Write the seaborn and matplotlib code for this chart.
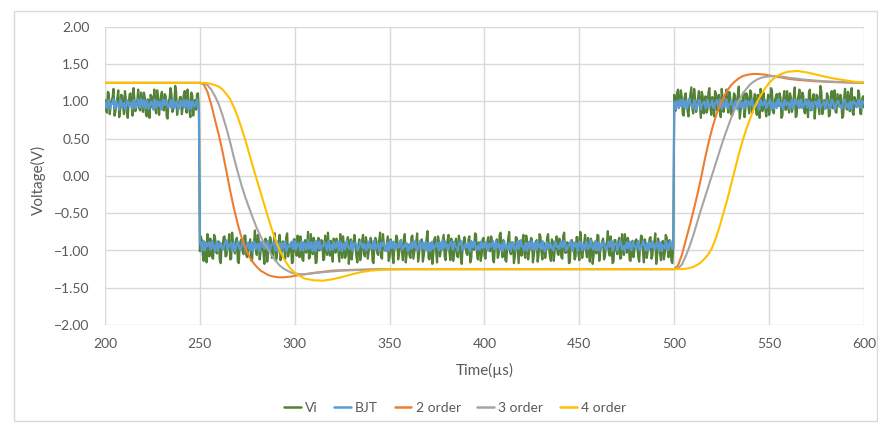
import matplotlib
matplotlib.use("Agg")
import matplotlib.pyplot as plt
import pandas as pd
import seaborn as sns
from matplotlib.lines import Line2D
from matplotlib.patches import Rectangle

# ---- sampled input / transistor output ----
# samples on whole microseconds (200 ... 600) and on the half microseconds in between
time_us = list(range(200, 601))
time_half_us = [t + 0.5 for t in range(200, 600)]

vi = [
    # 200-219
    1.02, 0.85, 1.11, 0.94, 1.06, 0.81, 0.99, 1.15, 0.89, 1.08, 0.83, 1.03, 0.78, 1.10, 0.95, 1.18, 0.87, 1.01, 0.91, 1.12,
    # 220-239
    0.86, 1.05, 0.80, 1.00, 1.09, 0.92, 1.16, 0.84, 1.04, 0.96, 1.13, 0.88, 1.07, 0.77, 1.02, 1.10, 0.90, 1.21, 0.82, 0.98,
    # 240-259
    1.06, 0.93, 1.14, 0.85, 1.03, 0.79, 1.08, 0.99, 0.89, 1.11, -1.01, -0.86, -1.14, -0.90, -0.78, -1.08, -0.94, -1.11, -0.83, -1.04,
    # 260-279
    -0.88, -1.17, -0.95, -0.81, -1.07, -0.91, -1.12, -0.76, -1.00, -0.87, -1.15, -0.93, -0.85, -1.05, -0.80, -1.09, -0.97, -1.13, -0.89, -0.73,
    # 280-299
    -1.06, -0.84, -1.02, -0.92, -1.18, -0.86, -0.99, -0.82, -1.10, -0.90, -1.14, -0.95, -0.79, -1.04, -0.88, -1.11, -0.77, -1.01, -0.91, -1.16,
    # 300-319
    -0.85, -1.07, -0.96, -0.81, -1.12, -0.89, -1.03, -0.75, -1.09, -0.94, -0.83, -1.17, -0.92, -1.00, -0.86, -1.13, -0.80, -1.06, -0.97, -0.87,
    # 320-339
    -1.15, -0.91, -0.84, -1.02, -0.78, -1.10, -0.95, -1.07, -0.82, -0.99, -1.12, -0.88, -0.93, -1.16, -0.85, -1.04, -0.79, -1.08, -0.90, -1.01,
    # 340-359
    -0.83, -1.14, -0.94, -0.87, -1.06, -0.76, -1.11, -0.92, -1.00, -0.81, -1.09, -0.89, -1.17, -0.96, -0.84, -1.03, -0.86, -1.13, -0.78, -1.05,
    # 360-379
    -0.95, -1.10, -0.80, -1.02, -0.89, -1.15, -0.91, -0.85, -1.07, -0.97, -0.74, -1.12, -0.93, -1.05, -0.82, -1.16, -0.88, -1.00, -0.86, -1.08,
    # 380-399
    -0.92, -0.79, -1.13, -0.96, -1.04, -0.84, -1.09, -0.90, -1.18, -0.87, -0.94, -1.06, -0.81, -1.11, -0.98, -0.77, -1.03, -0.89, -1.14, -0.85,
    # 400-419
    -1.07, -0.93, -0.82, -1.01, -0.88, -1.16, -0.91, -1.10, -0.79, -0.99, -0.86, -1.13, -0.95, -0.75, -1.05, -0.90, -1.08, -0.83, -1.17, -0.94,
    # 420-439
    -0.87, -1.04, -0.80, -1.12, -0.96, -0.85, -1.07, -0.92, -1.15, -0.78, -1.02, -0.89, -1.10, -0.83, -0.97, -1.14, -0.88, -1.00, -0.81, -1.06,
    # 440-459
    -0.93, -1.11, -0.76, -1.03, -0.90, -1.16, -0.86, -0.95, -1.08, -0.82, -1.13, -0.91, -0.99, -0.79, -1.09, -0.94, -0.84, -1.18, -0.89, -1.04,
    # 460-479
    -0.80, -1.01, -0.88, -1.12, -0.92, -0.74, -1.07, -0.97, -1.15, -0.86, -1.05, -0.83, -1.10, -0.95, -0.78, -1.03, -0.90, -1.14, -0.87, -1.00,
    # 480-499
    -0.85, -1.08, -0.94, -0.81, -1.16, -0.91, -1.02, -0.84, -1.11, -0.89, -0.77, -1.06, -0.96, -1.13, -0.87, -1.04, -0.82, -1.09, -0.93, -1.17,
    # 500-519
    1.09, 0.90, 1.16, 0.95, 1.05, 0.81, 1.11, 0.87, 1.00, 1.19, 0.84, 1.03, 0.92, 1.14, 0.78, 1.07, 0.98, 0.85, 1.12, 0.93,
    # 520-539
    1.06, 0.80, 1.10, 1.01, 0.89, 1.17, 0.86, 1.04, 0.94, 1.13, 0.83, 0.99, 1.08, 0.91, 1.20, 0.88, 1.02, 0.79, 1.11, 0.96,
    # 540-559
    1.15, 0.85, 1.03, 0.93, 1.09, 0.78, 1.06, 1.12, 0.90, 0.99, 0.82, 1.18, 0.87, 1.01, 1.10, 0.94, 1.05, 0.81, 1.14, 0.89,
    # 560-579
    1.00, 1.11, 0.86, 1.07, 0.79, 1.03, 1.16, 0.92, 1.08, 0.84, 0.98, 1.13, 0.88, 1.04, 0.77, 1.09, 0.95, 1.21, 0.83, 1.02,
    # 580-600
    0.91, 1.07, 0.82, 1.14, 0.99, 0.86, 1.10, 0.93, 1.05, 0.80, 1.17, 0.89, 1.01, 1.12, 0.85, 1.06, 0.96, 1.15, 0.84, 1.03,
    0.92,
]

vi_half = [
    # 200.5-219.5
    0.90, 1.13, 0.83, 1.01, 1.17, 0.87, 1.05, 0.79, 1.09, 0.94, 1.14, 0.85, 0.98, 1.11, 0.81, 1.04, 0.92, 1.16, 0.88, 1.00,
    # 220.5-239.5
    1.12, 0.84, 1.03, 0.78, 1.07, 0.99, 0.89, 1.15, 0.82, 1.08, 0.93, 1.10, 0.80, 1.02, 1.18, 0.86, 0.97, 1.13, 0.91, 1.06,
    # 240.5-259.5
    0.83, 1.09, 0.95, 1.16, 0.88, 1.12, 0.81, 1.02, 1.10, 0.86, -0.81, -1.05, -0.89, -1.16, -0.95, -0.84, -1.10, -0.79, -1.02, -0.88,
    # 260.5-279.5
    -1.13, -0.92, -0.82, -1.08, -0.97, -0.78, -1.11, -0.90, -1.04, -0.83, -1.17, -0.87, -1.01, -0.80, -1.07, -0.94, -0.85, -1.14, -0.91, -0.99,
    # 280.5-299.5
    -0.79, -1.12, -0.89, -1.03, -0.84, -1.15, -0.96, -0.86, -1.06, -0.77, -1.10, -0.93, -1.13, -0.88, -1.00, -0.82, -1.08, -0.92, -1.17, -0.85,
    # 300.5-319.5
    -1.02, -0.80, -1.09, -0.91, -1.14, -0.86, -0.95, -1.11, -0.78, -1.05, -0.89, -1.16, -0.83, -0.99, -0.87, -1.12, -0.94, -0.76, -1.07, -0.92,
    # 320.5-339.5
    -0.84, -1.03, -0.88, -1.15, -0.96, -0.81, -1.10, -0.90, -1.18, -0.85, -1.01, -0.79, -1.08, -0.93, -1.13, -0.86, -1.05, -0.82, -1.11, -0.97,
    # 340.5-359.5
    -0.89, -1.17, -0.83, -1.04, -0.86, -1.09, -0.78, -1.00, -0.91, -1.14, -0.85, -1.06, -0.95, -0.80, -1.12, -0.88, -1.02, -0.84, -1.16, -0.92,
    # 360.5-379.5
    -1.07, -0.82, -1.11, -0.94, -0.77, -1.05, -0.87, -1.15, -0.97, -0.83, -1.10, -0.90, -1.18, -0.85, -1.01, -0.81, -1.08, -0.93, -0.79, -1.13,
    # 380.5-399.5
    -0.87, -1.02, -0.84, -1.14, -0.91, -1.07, -0.80, -1.10, -0.95, -0.82, -1.04, -0.86, -1.16, -0.89, -0.99, -0.78, -1.12, -0.92, -1.06, -0.83,
    # 400.5-419.5
    -1.11, -0.88, -1.00, -0.81, -1.13, -0.93, -0.85, -1.05, -0.76, -1.09, -0.96, -1.15, -0.84, -1.03, -0.89, -1.17, -0.82, -1.01, -0.87, -1.07,
    # 420.5-439.5
    -0.79, -1.10, -0.91, -1.02, -0.83, -1.16, -0.95, -0.86, -1.06, -0.81, -1.12, -0.92, -0.99, -0.78, -1.08, -0.85, -1.14, -0.94, -1.04, -0.84,
    # 440.5-459.5
    -1.09, -0.80, -1.03, -0.89, -1.17, -0.87, -0.97, -1.12, -0.82, -1.05, -0.75, -1.10, -0.90, -1.01, -0.83, -1.15, -0.88, -1.07, -0.93, -0.79,
    # 460.5-479.5
    -1.14, -0.95, -0.84, -1.08, -0.90, -1.03, -0.81, -1.17, -0.86, -1.00, -0.89, -1.11, -0.78, -1.06, -0.94, -0.83, -1.13, -0.91, -1.09, -0.87,
    # 480.5-499.5
    -0.92, -1.15, -0.80, -1.01, -0.85, -1.10, -0.96, -0.82, -1.07, -0.88, -1.18, -0.84, -1.04, -0.90, -1.12, -0.79, -0.99, -0.86, -1.14, -0.93,
    # 500.5-519.5
    0.87, 1.12, 0.93, 1.15, 0.83, 1.06, 0.99, 0.80, 1.10, 0.91, 1.17, 0.86, 1.04, 0.95, 1.13, 0.84, 1.07, 0.89, 1.18, 0.82,
    # 520.5-539.5
    1.01, 1.14, 0.88, 1.09, 0.79, 1.03, 0.94, 1.16, 0.85, 1.05, 0.81, 1.11, 0.92, 1.08, 0.77, 1.00, 1.12, 0.90, 1.07, 0.84,
    # 540.5-559.5
    1.13, 0.91, 1.10, 0.82, 1.02, 1.17, 0.87, 0.98, 0.80, 1.09, 0.93, 1.15, 0.84, 1.06, 0.96, 1.11, 0.78, 1.04, 0.89, 1.14,
    # 560.5-579.5
    0.85, 1.05, 0.92, 1.19, 0.81, 1.08, 0.95, 1.12, 0.86, 1.03, 0.79, 1.16, 0.90, 1.10, 0.94, 1.07, 0.83, 1.14, 0.88, 0.99,
    # 580.5-599.5
    1.11, 0.80, 1.06, 0.91, 1.15, 0.85, 1.01, 1.09, 0.78, 1.04, 0.95, 1.13, 0.87, 1.18, 0.82, 1.02, 0.93, 1.10, 0.83, 1.07,
]

bjt = [
    # 200-219
    0.99, 0.91, 1.02, 0.94, 0.97, 0.90, 1.00, 0.95, 1.03, 0.92, 0.98, 0.89, 1.01, 0.96, 0.93, 1.02, 0.91, 0.98, 0.95, 1.04,
    # 220-239
    0.92, 0.97, 1.01, 0.90, 0.99, 0.94, 1.03, 0.91, 0.96, 1.00, 0.89, 0.98, 1.02, 0.93, 0.97, 0.91, 1.04, 0.94, 0.99, 0.90,
    # 240-259
    1.01, 0.95, 0.92, 1.02, 0.89, 0.98, 1.00, 0.93, 0.97, 0.91, -0.91, -1.00, -0.87, -0.96, -0.94, -0.89, -0.98, -0.92, -1.01, -0.88,
    # 260-279
    -0.95, -0.90, -0.99, -0.91, -0.86, -0.97, -0.93, -1.00, -0.89, -0.96, -0.88, -0.98, -0.94, -0.87, -0.99, -0.92, -0.97, -0.90, -1.02, -0.91,
    # 280-299
    -0.93, -0.99, -0.88, -0.95, -0.98, -0.91, -0.87, -1.00, -0.92, -0.89, -0.96, -1.01, -0.90, -0.93, -0.97, -0.88, -0.99, -0.94, -0.89, -0.98,
    # 300-319
    -0.87, -0.96, -0.91, -1.00, -0.93, -0.90, -0.99, -0.86, -0.95, -0.97, -0.89, -1.01, -0.92, -0.88, -0.98, -0.94, -0.91, -1.00, -0.87, -0.96,
    # 320-339
    -0.99, -0.90, -0.93, -0.97, -0.88, -1.01, -0.92, -0.89, -0.95, -0.98, -0.87, -0.96, -0.91, -1.00, -0.94, -0.89, -0.97, -0.93, -0.99, -0.88,
    # 340-359
    -0.92, -0.98, -0.86, -0.95, -0.90, -1.00, -0.94, -0.91, -1.01, -0.89, -0.93, -0.97, -0.88, -0.99, -0.92, -0.96, -0.87, -0.98, -0.95, -0.90,
    # 360-379
    -1.00, -0.91, -0.89, -0.96, -0.94, -0.99, -0.87, -0.97, -0.92, -0.88, -1.01, -0.93, -0.90, -0.98, -0.95, -0.89, -1.00, -0.91, -0.86, -0.96,
    # 380-399
    -0.93, -0.99, -0.90, -0.97, -0.88, -0.95, -1.01, -0.92, -0.89, -0.98, -0.91, -0.94, -1.00, -0.87, -0.96, -0.90, -0.99, -0.93, -0.88, -0.97,
    # 400-419
    -0.96, -0.89, -1.00, -0.91, -0.93, -0.98, -0.87, -0.95, -0.99, -0.92, -0.88, -0.97, -0.94, -0.90, -1.01, -0.89, -0.96, -0.91, -0.98, -0.86,
    # 420-439
    -0.95, -1.00, -0.90, -0.92, -0.97, -0.88, -0.99, -0.93, -0.87, -0.96, -0.98, -0.91, -1.01, -0.89, -0.94, -0.92, -0.99, -0.88, -0.95, -0.97,
    # 440-459
    -0.90, -0.96, -0.87, -1.00, -0.93, -0.91, -0.98, -0.89, -0.95, -1.01, -0.88, -0.94, -0.92, -0.99, -0.90, -0.97, -0.86, -0.96, -0.93, -1.00,
    # 460-479
    -0.89, -0.97, -0.94, -0.88, -0.99, -0.92, -0.95, -0.87, -0.98, -0.91, -1.00, -0.93, -0.90, -0.96, -1.01, -0.89, -0.92, -0.98, -0.88, -0.95,
    # 480-499
    -0.97, -0.87, -0.99, -0.93, -0.90, -1.00, -0.92, -0.89, -0.96, -0.94, -0.98, -0.88, -1.01, -0.91, -0.93, -0.97, -0.89, -0.99, -0.87, -0.96,
    # 500-519
    1.00, 0.90, 0.98, 1.02, 0.95, 0.92, 1.01, 0.93, 1.04, 0.96, 0.91, 0.99, 0.94, 1.02, 0.89, 0.97, 1.00, 0.92, 0.98, 0.95,
    # 520-539
    1.02, 0.91, 0.99, 0.94, 1.03, 0.90, 0.96, 1.00, 0.93, 0.97, 1.01, 0.89, 0.98, 0.95, 1.02, 0.92, 0.99, 0.91, 0.97, 1.00,
    # 540-559
    0.94, 1.03, 0.92, 0.96, 1.01, 0.90, 0.99, 0.95, 1.02, 0.93, 0.98, 0.89, 1.00, 0.97, 0.91, 1.04, 0.94, 0.92, 1.01, 0.95,
    # 560-579
    0.99, 0.90, 1.02, 0.94, 0.96, 1.00, 0.91, 1.03, 0.93, 0.97, 0.92, 1.01, 0.98, 0.89, 0.99, 0.95, 1.02, 0.91, 0.96, 1.00,
    # 580-600
    0.93, 0.98, 0.90, 1.03, 0.97, 0.92, 1.01, 0.94, 0.91, 0.99, 1.02, 0.95, 0.89, 1.00, 0.96, 0.98, 0.92, 1.02, 0.93, 1.01,
    0.97,
]

bjt_half = [
    # 200.5-219.5
    0.93, 1.01, 0.90, 0.98, 1.03, 0.92, 0.96, 0.89, 1.00, 0.97, 0.91, 1.02, 0.94, 0.99, 0.90, 1.01, 0.95, 1.03, 0.92, 0.98,
    # 220.5-239.5
    1.02, 0.91, 0.97, 0.93, 1.00, 0.89, 0.99, 1.01, 0.94, 0.90, 1.03, 0.95, 0.98, 0.92, 1.02, 0.96, 0.91, 0.99, 0.89, 1.00,
    # 240.5-259.5
    0.94, 1.02, 0.92, 0.97, 1.01, 0.90, 0.99, 0.95, 1.03, 0.93, -0.89, -0.96, -1.00, -0.90, -0.93, -0.99, -0.87, -0.97, -0.92, -1.01,
    # 260.5-279.5
    -0.90, -0.94, -0.98, -0.88, -1.00, -0.92, -0.89, -0.96, -1.01, -0.91, -0.93, -0.99, -0.87, -0.95, -0.97, -0.89, -1.00, -0.92, -0.88, -0.98,
    # 280.5-299.5
    -0.91, -1.01, -0.89, -0.94, -0.97, -0.88, -0.99, -0.93, -0.90, -1.00, -0.87, -0.96, -0.98, -0.91, -0.89, -1.01, -0.93, -0.95, -0.88, -0.97,
    # 300.5-319.5
    -0.99, -0.90, -0.95, -0.88, -1.00, -0.92, -0.94, -0.98, -0.89, -1.01, -0.91, -0.87, -0.97, -0.99, -0.93, -0.88, -0.96, -0.90, -1.00, -0.92,
    # 320.5-339.5
    -0.89, -0.97, -0.88, -1.00, -0.93, -0.91, -0.99, -0.87, -0.96, -0.94, -1.01, -0.90, -0.92, -0.98, -0.88, -0.95, -0.91, -1.00, -0.89, -0.97,
    # 340.5-359.5
    -0.95, -0.88, -0.99, -0.92, -1.01, -0.90, -0.89, -0.97, -0.93, -1.00, -0.87, -0.94, -0.98, -0.91, -0.96, -0.88, -0.99, -0.93, -0.90, -1.01,
    # 360.5-379.5
    -0.91, -0.98, -0.93, -0.87, -1.00, -0.92, -0.96, -0.89, -0.99, -0.94, -0.90, -1.01, -0.88, -0.95, -0.91, -0.97, -0.89, -1.00, -0.95, -0.88,
    # 380.5-399.5
    -0.98, -0.92, -0.88, -0.99, -0.94, -0.97, -0.90, -0.87, -1.00, -0.93, -0.96, -0.89, -1.01, -0.91, -0.88, -0.98, -0.94, -0.99, -0.92, -0.90,
    # 400.5-419.5
    -0.89, -1.00, -0.91, -0.95, -0.87, -0.98, -0.96, -0.90, -0.93, -1.01, -0.88, -0.94, -0.99, -0.92, -0.89, -0.97, -1.00, -0.87, -0.95, -0.91,
    # 420.5-439.5
    -0.97, -0.90, -1.01, -0.88, -0.93, -0.96, -0.89, -0.99, -0.94, -0.91, -0.87, -1.00, -0.92, -0.98, -0.90, -0.95, -1.00, -0.89, -0.93, -0.98,
    # 440.5-459.5
    -0.88, -0.95, -0.91, -0.99, -0.92, -0.87, -1.01, -0.94, -0.90, -0.97, -0.89, -1.00, -0.93, -0.88, -0.98, -0.92, -0.96, -0.99, -0.87, -0.94,
    # 460.5-479.5
    -1.00, -0.91, -0.89, -0.96, -0.98, -0.88, -0.93, -1.01, -0.91, -0.90, -0.95, -0.87, -0.99, -0.94, -0.92, -0.97, -0.88, -1.00, -0.90, -0.96,
    # 480.5-499.5
    -0.92, -0.99, -0.94, -0.87, -0.97, -0.90, -1.00, -0.93, -0.88, -0.98, -0.91, -0.96, -0.89, -1.01, -0.94, -0.87, -0.99, -0.91, -0.95, -0.98,
    # 500.5-519.5
    0.97, 1.01, 0.91, 0.99, 1.03, 0.94, 0.90, 1.00, 0.96, 0.92, 1.02, 0.89, 0.98, 1.01, 0.95, 0.99, 0.91, 1.03, 0.93, 0.96,
    # 520.5-539.5
    0.92, 0.98, 1.02, 0.90, 0.97, 1.00, 0.93, 1.03, 0.91, 0.96, 0.99, 0.94, 1.01, 0.89, 1.00, 0.97, 0.90, 1.02, 0.95, 0.98,
    # 540.5-559.5
    1.01, 0.92, 0.96, 0.99, 0.89, 1.02, 0.95, 1.00, 0.91, 0.98, 1.03, 0.93, 0.90, 0.97, 1.01, 0.94, 0.99, 0.89, 1.02, 0.96,
    # 560.5-579.5
    0.94, 1.00, 0.90, 1.03, 0.97, 0.93, 1.01, 0.91, 0.98, 1.02, 0.95, 0.89, 0.99, 0.96, 1.00, 0.92, 1.03, 0.94, 0.97, 0.90,
    # 580.5-599.5
    1.02, 0.96, 0.93, 1.01, 0.89, 0.98, 1.00, 0.95, 0.91, 1.03, 0.92, 0.97, 0.99, 0.90, 1.01, 0.98, 0.94, 1.02, 0.91, 0.99,
]

# ---- filter outputs (2nd, 3rd, 4th order) ----
filter_time_us = [
    200,
    250, 252, 254, 256, 258, 260, 262, 264, 266, 268, 270, 272, 274, 276, 278,
    280, 282, 284, 286, 288, 290, 292, 294, 296, 298, 300,
    305, 310, 315, 320, 325, 330, 335, 340, 345, 350, 355, 360,
    380, 420, 460, 500,
    502, 504, 506, 508, 510, 512, 514, 516, 518, 520, 522, 524, 526, 528, 530,
    532, 534, 536, 538, 540, 542, 544, 546, 548, 550, 552, 554, 556, 558, 560,
    565, 570, 575, 580, 585, 590, 595, 600,
]

order2 = [
    1.25,
    1.25, 1.23, 1.13, 0.96, 0.75, 0.55, 0.32, 0.06, -0.20, -0.44, -0.65, -0.83, -0.97, -1.08, -1.16,
    -1.22, -1.27, -1.30, -1.33, -1.345, -1.355, -1.36, -1.36, -1.355, -1.35, -1.34,
    -1.32, -1.30, -1.285, -1.27, -1.265, -1.26, -1.257, -1.255, -1.252, -1.25, -1.25, -1.25,
    -1.25, -1.25, -1.25, -1.25,
    -1.20, -1.06, -0.87, -0.68, -0.48, -0.27, -0.04, 0.21, 0.44, 0.64, 0.81, 0.95, 1.06, 1.15, 1.22,
    1.27, 1.31, 1.34, 1.355, 1.365, 1.37, 1.37, 1.365, 1.36, 1.35, 1.34, 1.33, 1.325, 1.315, 1.305,
    1.29, 1.28, 1.27, 1.265, 1.26, 1.255, 1.252, 1.25,
]

order3 = [
    1.25,
    1.25, 1.245, 1.22, 1.16, 1.07, 0.96, 0.81, 0.64, 0.45, 0.24, 0.05, -0.13, -0.29, -0.43, -0.57,
    -0.70, -0.81, -0.91, -0.99, -1.07, -1.14, -1.20, -1.24, -1.27, -1.295, -1.31,
    -1.32, -1.305, -1.29, -1.28, -1.27, -1.265, -1.26, -1.255, -1.252, -1.25, -1.25, -1.25,
    -1.25, -1.25, -1.25, -1.25,
    -1.24, -1.19, -1.08, -0.95, -0.80, -0.63, -0.46, -0.30, -0.14, 0.02, 0.18, 0.34, 0.50, 0.64, 0.78,
    0.90, 1.01, 1.10, 1.17, 1.23, 1.27, 1.30, 1.32, 1.33, 1.337, 1.34, 1.34, 1.337, 1.33, 1.32,
    1.305, 1.29, 1.28, 1.27, 1.265, 1.26, 1.255, 1.25,
]

order4 = [
    1.25,
    1.25, 1.25, 1.245, 1.235, 1.22, 1.20, 1.16, 1.10, 1.03, 0.92, 0.79, 0.64, 0.48, 0.30, 0.12,
    -0.05, -0.22, -0.39, -0.56, -0.72, -0.87, -0.99, -1.10, -1.18, -1.25, -1.30,
    -1.375, -1.40, -1.405, -1.385, -1.355, -1.32, -1.29, -1.27, -1.26, -1.255, -1.252, -1.25,
    -1.25, -1.25, -1.25, -1.25,
    -1.25, -1.25, -1.245, -1.235, -1.22, -1.195, -1.16, -1.11, -1.05, -0.96, -0.83, -0.67, -0.49, -0.31, -0.11,
    0.09, 0.29, 0.47, 0.63, 0.77, 0.90, 1.01, 1.10, 1.18, 1.25, 1.30, 1.34, 1.365, 1.385, 1.40,
    1.41, 1.39, 1.36, 1.33, 1.305, 1.285, 1.265, 1.255,
]

series_names = ["Vi", "BJT", "2 order", "3 order", "4 order"]
series_colors = ["#548235", "#5B9BD5", "#ED7D31", "#A5A5A5", "#FFC000"]
series_widths = [1.6, 1.5, 1.5, 1.5, 1.5]

x_ticks = [200, 250, 300, 350, 400, 450, 500, 550, 600]
y_ticks = [-2.0, -1.5, -1.0, -0.5, 0.0, 0.5, 1.0, 1.5, 2.0]

# ---- tidy table ----
frames = [
    pd.DataFrame({"time": time_us + time_half_us, "voltage": vi + vi_half, "series": "Vi"}),
    pd.DataFrame({"time": time_us + time_half_us, "voltage": bjt + bjt_half, "series": "BJT"}),
    pd.DataFrame({"time": filter_time_us, "voltage": order2, "series": "2 order"}),
    pd.DataFrame({"time": filter_time_us, "voltage": order3, "series": "3 order"}),
    pd.DataFrame({"time": filter_time_us, "voltage": order4, "series": "4 order"}),
]
df = pd.concat(frames, ignore_index=True)

sns.set_theme(style="white")
plt.rcParams["font.family"] = ["Lato", "DejaVu Sans"]

W, H = 879, 423
fig = plt.figure(figsize=(W / 100, H / 100), dpi=100)
ax = fig.add_axes([105 / W, 1 - 325 / H, (864 - 105) / W, (325 - 27) / H])

for name, color, lw in zip(series_names, series_colors, series_widths):
    sns.lineplot(
        data=df[df["series"] == name], x="time", y="voltage",
        color=color, linewidth=lw, estimator=None, sort=True,
        ax=ax, legend=False,
    )

ax.set_xlim(200, 600)
ax.set_ylim(-2, 2)
ax.set_xticks(x_ticks)
ax.set_xticklabels([str(v) for v in x_ticks])
ax.set_yticks(y_ticks)
ax.set_yticklabels([f"{v:.2f}".replace("-", "\u2212") for v in y_ticks])
ax.grid(True, color="#D9D9D9", linewidth=1.0)
ax.set_axisbelow(True)
for s in ax.spines.values():
    s.set_visible(False)
ax.tick_params(axis="both", length=0, labelsize=10, labelcolor="#595959")
ax.tick_params(axis="y", pad=11)
ax.tick_params(axis="x", pad=9)
ax.set_xlabel("")
ax.set_ylabel("")

fig.text(485 / W, 1 - 370 / H, "Time(\u00b5s)", ha="center", va="center",
         fontsize=11, color="#595959")
fig.text(38 / W, 1 - 180 / H, "Voltage(V)", ha="center", va="center",
         rotation=90, fontsize=11, color="#595959")

handles = [Line2D([0], [0], color=c, linewidth=1.8) for c in series_colors]
fig.legend(handles, series_names, loc="center", bbox_to_anchor=(455 / W, 1 - 408 / H),
           ncol=5, frameon=False, fontsize=10, handlelength=1.2, handletextpad=0.3,
           columnspacing=1.2, labelcolor="#595959")

# chart-area frame
fig.add_artist(Rectangle((14 / W, 2 / H), (877 - 14) / W, (421 - 11) / H,
                         transform=fig.transFigure, fill=False,
                         edgecolor="#D9D9D9", linewidth=1.0))

fig.savefig("out.png", dpi=100, facecolor="white")
